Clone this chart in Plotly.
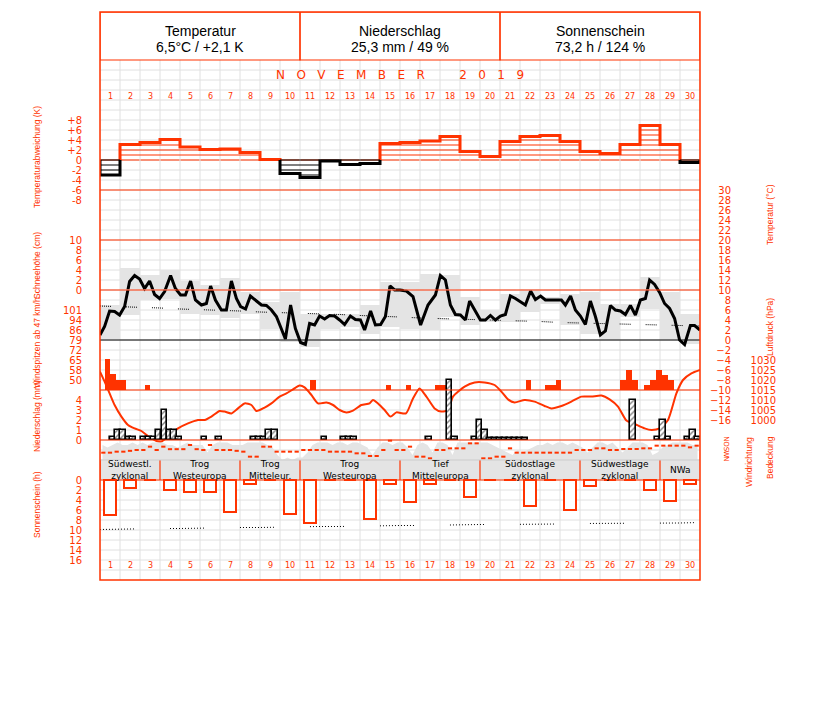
import plotly.graph_objects as go

# ---------------- data ----------------
days = list(range(1, 31))
day_labels = [str(d) for d in days]
day_edges = list(range(0, 31))

header_titles = ["Temperatur", "Niederschlag", "Sonnenschein"]
header_values = ["6,5°C / +2,1 K", "25,3 mm / 49 %", "73,2 h / 124 %"]
header_centers = [5, 15, 25]
month_letters = ["N", "O", "V", "E", "M", "B", "E", "R"]
year_letters = ["2", "0", "1", "9"]

# daily temperature anomaly (K)
anomaly = [-3.0, 3.1, 3.5, 4.1, 2.6, 2.1, 2.2, 1.5, 0.1, -2.7, -3.5, -0.2, -0.9, -0.7, 3.3,
           3.5, 3.8, 4.7, 1.7, 0.7, 3.7, 4.7, 4.9, 3.7, 1.7, 1.3, 3.1, 6.9, 3.1, -0.5]

# daily max / min temperature (°C)
tmax = [7.0, 14.5, 13.1, 14.0, 11.8, 11.1, 12.5, 9.7, 7.7, 9.7, 5.3, 5.3, 5.3, 7.0, 11.7,
        11.7, 13.3, 13.0, 8.7, 6.0, 9.3, 10.3, 8.7, 9.3, 9.7, 7.3, 7.3, 12.7, 9.7, 5.3]
tmin = [0.3, 5.1, 8.0, 8.3, 5.3, 5.1, 4.5, 5.3, 2.3, -0.3, -1.3, 2.3, 2.7, 1.3, 2.7,
        2.3, 2.0, 4.7, 3.0, 3.7, 3.7, 5.7, 7.3, 3.0, 1.3, 0.0, 4.7, 6.3, 0.0, -0.7]

# temperature course (time in days since 1 Nov 00 h, °C)
temp_t = [0.0, 0.23, 0.48, 0.73, 0.98, 1.23, 1.48, 1.73, 1.98, 2.23, 2.48, 2.73, 2.98, 3.23, 3.53,
          3.77, 4.03, 4.27, 4.53, 4.77, 5.07, 5.32, 5.53, 5.77, 6.07, 6.32, 6.57, 6.82, 7.03, 7.28,
          7.52, 7.77, 8.07, 8.32, 8.57, 8.82, 9.03, 9.27, 9.53, 9.77, 10.03, 10.27, 10.48, 10.73,
          10.98, 11.23, 11.48, 11.73, 11.98, 12.23, 12.52, 12.77, 13.02, 13.23, 13.53, 13.77,
          14.03, 14.27, 14.5, 14.73, 15.0, 15.32, 15.65, 16.03, 16.4, 16.77, 17.02, 17.27, 17.52,
          17.77, 18.02, 18.27, 18.48, 18.77, 19.02, 19.27, 19.52, 19.77, 20.02, 20.27, 20.52,
          20.77, 21.03, 21.27, 21.53, 21.77, 22.03, 22.27, 22.82, 23.07, 23.27, 23.53, 23.77,
          24.02, 24.27, 24.52, 24.77, 25.02, 25.27, 25.52, 25.77, 26.02, 26.27, 26.52, 26.77,
          27.02, 27.27, 27.48, 27.73, 27.98, 28.23, 28.48, 28.73, 28.98, 29.23, 29.52, 29.73, 30.0]
temp_v = [1.0, 2.7, 5.8, 5.7, 5.0, 6.7, 11.7, 12.9, 12.2, 10.3, 11.8, 9.1, 8.3, 9.7, 12.9,
          10.3, 9.0, 9.0, 11.8, 8.0, 7.0, 7.3, 10.8, 8.0, 6.0, 6.0, 11.8, 8.3, 6.7, 6.2,
          8.8, 8.0, 7.0, 6.9, 6.0, 4.7, 2.7, 0.2, 7.0, 2.3, -0.5, -0.9, 3.3, 3.0,
          4.8, 4.2, 4.9, 4.8, 4.0, 3.1, 4.8, 4.1, 4.0, 2.0, 5.8, 3.0,
          3.1, 4.7, 10.8, 10.0, 10.0, 9.8, 8.7, 3.0, 7.0, 9.0, 12.9, 12.0, 7.0,
          5.1, 5.0, 4.0, 7.8, 5.7, 4.0, 4.0, 4.9, 4.0, 4.8, 5.1, 8.8,
          8.3, 7.7, 7.0, 9.8, 8.1, 8.8, 8.0, 8.0, 8.0, 7.0, 8.8, 6.0,
          4.8, 3.1, 7.8, 4.7, 1.0, 1.8, 6.9, 6.0, 5.8, 5.1, 6.9, 5.0,
          8.0, 8.3, 12.0, 11.1, 9.5, 7.3, 6.3, 4.3, 0.0, -0.9, 2.9, 2.9, 2.0]

# long-term mean temperature at day edges (°C)
clim_temp = [6.8, 6.7, 6.5, 6.4, 6.2, 6.1, 5.9, 5.8, 5.6, 5.5, 5.3, 5.2, 5.1, 4.9, 4.8, 4.6,
             4.4, 4.3, 4.2, 4.1, 3.9, 3.8, 3.7, 3.5, 3.4, 3.3, 3.2, 3.1, 3.0, 2.9, 2.8]

# snow depth (cm)
snow = [0, 0, 0, 0, 0, 0, 0, 0, 0, 0, 0, 0, 0, 0, 0,
        0, 0, 0, 0, 0, 0, 0, 0, 0, 0, 0, 0, 0, 0, 0]

# wind gusts >= 47 km/h (time, km/h)
wind_t = [0.38, 0.65, 0.9, 1.15, 2.38, 10.65, 14.42, 15.42, 16.9, 17.15, 21.42, 22.4, 22.65,
          22.92, 26.15, 26.45, 26.75, 27.35, 27.65, 27.95, 28.25, 28.55]
wind_v = [65.3, 54.7, 50.4, 50.4, 46.8, 50.4, 46.8, 46.8, 46.8, 46.8, 50.4, 46.8, 46.8,
          50.4, 50.4, 57.6, 50.4, 46.8, 50.4, 57.6, 54.0, 50.4]

# air pressure (time, hPa)
pres_t = [0.0, 0.23, 0.48, 0.73, 1.07, 1.4, 1.73, 2.07, 2.4, 2.82, 3.07, 3.4, 3.9, 4.4, 4.9,
          5.23, 5.57, 5.98, 6.23, 6.57, 6.9, 7.23, 7.57, 7.82, 8.23, 8.57, 8.98, 9.32, 9.65,
          9.98, 10.23, 10.57, 10.9, 11.32, 11.65, 11.98, 12.32, 12.65, 13.07, 13.48, 13.65,
          13.9, 14.23, 14.53, 14.82, 15.3, 15.65, 15.98, 16.32, 16.73, 17.07, 17.4, 17.65,
          18.23, 18.73, 19.23, 19.73, 20.07, 20.4, 20.73, 21.23, 21.73, 22.23, 22.57, 23.07,
          23.57, 24.07, 24.57, 25.07, 25.48, 25.9, 26.32, 26.73, 27.23, 27.57, 27.98, 28.4,
          28.82, 29.15, 29.57, 30.0]
pres_v = [1024.2, 1019.2, 1013.3, 1007.5, 1001.7, 997.5, 995.8, 994.5, 992.0, 989.5, 989.2,
          991.7, 995.8, 998.3, 1000.0, 1000.0, 1001.7, 1004.5, 1004.2, 1003.3, 1005.8, 1008.3,
          1007.5, 1004.5, 1006.2, 1008.3, 1011.7, 1013.3, 1015.3, 1017.2, 1016.3, 1012.5,
          1008.3, 1008.7, 1007.5, 1005.0, 1003.8, 1004.7, 1007.5, 1008.3, 1010.0, 1008.3,
          1005.0, 1001.7, 1003.8, 1003.3, 1010.8, 1015.8, 1011.7, 1005.8, 1004.2, 1005.0,
          1011.7, 1016.7, 1018.8, 1018.8, 1017.5, 1014.2, 1010.3, 1008.8, 1010.0, 1009.2,
          1007.0, 1005.8, 1007.0, 1009.2, 1011.7, 1011.7, 1012.2, 1010.3, 1006.7, 999.7,
          998.0, 995.8, 995.0, 995.8, 1000.0, 1013.3, 1020.0, 1023.3, 1025.0]

# precipitation (time, mm)
prec_t = [0.65, 0.9, 1.15, 1.43, 1.65, 2.2, 2.45, 2.68, 2.93, 3.22, 3.47, 3.7, 3.95, 5.22,
          5.95, 7.7, 7.95, 8.2, 8.45, 8.75, 11.22, 12.2, 12.45, 12.7, 16.45, 17.47, 17.75,
          18.72, 18.98, 19.25, 19.5, 19.75, 20.0, 20.25, 20.5, 20.75, 21.0, 21.25, 26.65,
          27.88, 28.15, 28.43, 29.38, 29.65, 29.9]
prec_v = [0.3, 1.0, 1.0, 0.3, 0.3, 0.3, 0.3, 0.3, 1.0, 3.0, 1.0, 1.0, 0.3, 0.3,
          0.3, 0.3, 0.3, 0.3, 1.0, 1.0, 0.3, 0.3, 0.3, 0.3, 0.3, 6.0, 0.3,
          0.3, 2.0, 1.0, 0.2, 0.2, 0.2, 0.2, 0.2, 0.2, 0.2, 0.2, 4.0,
          0.3, 2.0, 0.3, 0.3, 1.0, 0.3]

# wind direction, 3 values per day (degrees)
wind_dir = [228, 228, 210, 210, 195, 180, 180, 120, 180, 120, 165, 165, 165, 90, 165,
            180, 90, 180, 180, 180, 195, 210, 300, 300, 120, 120, 210, 210, 210, 210,
            180, 180, 180, 180, 210, 210, 210, 210, 240, 240, 288, 288, 180, 12, 180,
            180, 120, 300, 300, 330, 180, 180, 150, 150, 150, 60, 60, 330, 330, 300,
            300, 150, 228, 228, 228, 228, 228, 228, 228, 228, 228, 180, 180, 180, 150,
            150, 180, 180, 162, 162, 162, 150, 150, 102, 102, 102, 102, 102, 132, 102]

# cloud cover, 4 values per day (octas)
cloud = [6, 5, 6, 7, 6, 6, 7, 6, 7, 6, 7, 7, 7, 6, 6, 5, 6, 7, 6, 6, 6, 3, 6, 7,
         7, 7, 6, 6, 6, 7, 7, 7, 7, 6, 5, 2, 0, 1, 0, 1, 1, 3, 6, 7, 7, 7, 6, 7,
         7, 6, 7, 7, 6, 5, 2, 5, 7, 7, 6, 7, 7, 5, 2, 6, 7, 6, 3, 7, 7, 6, 2, 7,
         7, 7, 7, 7, 7, 7, 6, 5, 4, 3, 2, 4, 3, 4, 5, 6, 6, 7, 6, 7, 7, 6, 7, 6,
         5, 3, 5, 7, 7, 6, 7, 5, 3, 5, 7, 7, 7, 6, 2, 3, 5, 6, 7, 7, 7, 7, 6, 6]

# weather types
gwl_start = [0, 3, 7, 10, 15, 19, 24, 28]
gwl_end = [3, 7, 10, 15, 19, 24, 28, 30]
gwl_label = ["Südwestl.<br>zyklonal", "Trog<br>Westeuropa", "Trog<br>Mitteleur.",
             "Trog<br>Westeuropa", "Tief<br>Mitteleuropa", "Südostlage<br>zyklonal",
             "Südwestlage<br>zyklonal", "NWa"]

# sunshine (h)
sun = [7.0, 1.6, 0.0, 2.0, 2.4, 2.4, 6.4, 0.8, 0.0, 6.8, 8.6, 0.0, 0.0, 7.8, 0.8,
       4.4, 0.8, 0.0, 3.4, 0.0, 0.0, 5.2, 0.0, 6.0, 1.2, 0.0, 0.0, 2.0, 4.2, 0.8]
sun_possible = [9.9, 9.8, 9.8, 9.7, 9.7, 9.6, 9.6, 9.5, 9.5, 9.4, 9.4, 9.3, 9.3, 9.2, 9.2, 9.1,
                9.1, 9.0, 9.0, 8.9, 8.9, 8.9, 8.8, 8.8, 8.7, 8.7, 8.7, 8.6, 8.6, 8.6, 8.5]

# tick labels
anom_ticks = [8, 6, 4, 2, 0, -2, -4, -6, -8]
anom_text = ["+8", "+6", "+4", "+2", "0", "-2", "-4", "-6", "-8"]
temp_ticks = [30, 28, 26, 24, 22, 20, 18, 16, 14, 12, 10, 8, 6, 4, 2, 0,
              -2, -4, -6, -8, -10, -12, -14, -16]
snow_ticks = [10, 8, 6, 4, 2, 0]
wind_ticks = [100.8, 93.6, 86.4, 79.2, 72.0, 64.8, 57.6, 50.4]
wind_text = ["101", "94", "86", "79", "72", "65", "58", "50"]
prec_ticks = [4, 3, 2, 1, 0]
pres_ticks = [1030, 1025, 1020, 1015, 1010, 1005, 1000]
dir_ticks = [0, 90, 180, 270, 360]
dir_text = ["N", "O", "S", "W", "N"]
sun_ticks = [0, 2, 4, 6, 8, 10, 12, 14, 16]

# ---------------- layout helpers ----------------
OFF = 8                      # page margin of the browser body
W, H = 827 - 2 * OFF, 702 - 2 * OFF
TOP, BOT = 12, 580           # plot rows in page pixels
RED = '#ff3300'
GRID = '#e0e0e0'
GREY = '#e4e4e4'
TICKFONT = dict(family='DejaVu Sans, sans-serif', size=10, color=RED)
TITLEFONT = dict(family='Liberation Sans, Arial, sans-serif', size=8.5, color=RED)


def py(p):
    return (H - (p - OFF)) / H


def px(p):
    return (p - OFF) / W


def yrange(v0, p0, ppu):
    return [v0 - (BOT - p0) / ppu, v0 + (p0 - TOP) / ppu]


def ya(p):
    # value on the main (anomaly) axis at page row p
    return (160 - p) / 5


fig = go.Figure()
nolegend = dict(showlegend=False, hoverinfo='skip')

# ---- temperature anomaly (y) ----
def runs(sign):
    out, cur = [], []
    for i, v in enumerate(anomaly):
        if v * sign > 0:
            cur.append(i)
        elif cur:
            out.append(cur)
            cur = []
    if cur:
        out.append(cur)
    return out


for sign, col in ((1, RED), (-1, 'black')):
    hx, hy = [], []
    for lev in range(0 if sign < 0 else 1, 9):
        for i, v in enumerate(anomaly):
            if v * sign > lev:
                hx += [i, i + 1, None]
                hy += [sign * lev, sign * lev, None]
    fig.add_trace(go.Scatter(x=hx, y=hy, mode='lines', line=dict(color=col, width=1),
                             yaxis='y', **nolegend))
    ox, oy = [], []
    for r in runs(sign):
        ox.append(r[0])
        oy.append(0)
        for i in r:
            ox += [i, i + 1]
            oy += [anomaly[i], anomaly[i]]
        ox += [r[-1] + 1, None]
        oy += [0, None]
    fig.add_trace(go.Scatter(x=ox, y=oy, mode='lines', line=dict(color=col, width=3),
                             yaxis='y', **nolegend))

# ---- temperature (y2) ----
fig.add_trace(go.Bar(x=[d - 0.5 for d in days], y=[a - b for a, b in zip(tmax, tmin)], base=tmin,
                     width=1, marker=dict(color=GREY, line=dict(width=0)), yaxis='y2', **nolegend))
fig.add_trace(go.Scatter(x=day_edges, y=clim_temp, mode='lines', yaxis='y2',
                         line=dict(color='black', width=1,
                                   dash='1px,1px,1px,1px,1px,1px,1px,1px,1px,1px,1px,15px'),
                         **nolegend))
fig.add_trace(go.Scatter(x=temp_t, y=temp_v, mode='lines', yaxis='y2',
                         line=dict(color='black', width=3), **nolegend))

# ---- snow (y3) ----
fig.add_trace(go.Bar(x=[d - 0.5 for d in days], y=snow, width=0.6, yaxis='y3',
                     marker=dict(color='#bbbbbb'), **nolegend))

# ---- wind gusts (y4) ----
fig.add_trace(go.Bar(x=wind_t, y=[v - 43.2 for v in wind_v], base=43.2, width=0.27, yaxis='y4',
                     marker=dict(color=RED, line=dict(width=0)), **nolegend))

# ---- pressure (y5) ----
fig.add_trace(go.Scatter(x=pres_t, y=pres_v, mode='lines', yaxis='y5',
                         line=dict(color=RED, width=2, shape='spline', smoothing=0.6), **nolegend))

# ---- precipitation (y6) ----
fig.add_trace(go.Bar(x=prec_t, y=prec_v, width=0.26, yaxis='y6',
                     marker=dict(color='white', line=dict(color='black', width=1.6),
                                 pattern=dict(shape='/', fgcolor='black', bgcolor='white',
                                              size=4, solidity=0.35)),
                     **nolegend))

# ---- cloud cover (y7) ----
fig.add_trace(go.Scatter(x=[i / 4 + 0.125 for i in range(len(cloud))], y=cloud, mode='lines',
                         fill='tozeroy', fillcolor=GREY, line=dict(width=0, color=GREY),
                         yaxis='y7', **nolegend))

# ---- wind direction (y8) ----
fig.add_trace(go.Scatter(x=[i / 3 + 1 / 6 for i in range(len(wind_dir))], y=wind_dir,
                         mode='markers', yaxis='y8',
                         marker=dict(symbol='line-ew', size=3, line=dict(width=2, color=RED)),
                         **nolegend))

# ---- sunshine (y9) ----
fig.add_trace(go.Bar(x=[d - 0.5 for d in days], y=sun, width=0.62, yaxis='y9',
                     marker=dict(color='white', line=dict(color=RED, width=2)), **nolegend))
fig.add_trace(go.Scatter(x=day_edges, y=sun_possible, mode='lines', yaxis='y9',
                         line=dict(color='black', width=1,
                                   dash='1px,2px,1px,2px,1px,2px,1px,2px,1px,2px,1px,2px,'
                                        '1px,2px,1px,2px,1px,2px,1px,2px,1px,2px,1px,36px'),
                         **nolegend))

# ---------------- axes ----------------
left = dict(anchor='free', side='left', position=px(82), showgrid=False, zeroline=False,
            showline=False, ticks='', tickfont=TICKFONT, tickmode='array', fixedrange=True,
            automargin=False)

fig.update_layout(
    width=W, height=H, margin=dict(l=0, r=0, t=0, b=0, autoexpand=False),
    paper_bgcolor='white', plot_bgcolor='white', barmode='overlay', bargap=0,
    xaxis=dict(domain=[px(100), px(700)], range=[0, 30], anchor='y', showgrid=False,
               showticklabels=False, zeroline=False, showline=False, ticks='',
               fixedrange=True, automargin=False),
    yaxis=dict(left, domain=[py(BOT), py(TOP)], range=yrange(0, 160, 5),
               tickvals=anom_ticks, ticktext=anom_text),
    yaxis2=dict(left, overlaying='y', position=px(731), range=yrange(0, 340, 5),
                tickvals=temp_ticks),
    yaxis3=dict(left, overlaying='y', range=yrange(0, 290, 5), tickvals=snow_ticks),
    yaxis4=dict(left, overlaying='y', range=yrange(43.2, 390, 10 / 7.2),
                tickvals=wind_ticks, ticktext=wind_text),
    yaxis5=dict(left, overlaying='y', position=px(776), range=yrange(1000, 420, 2),
                tickvals=pres_ticks),
    yaxis6=dict(left, overlaying='y', range=yrange(0, 440, 10), tickvals=prec_ticks),
    yaxis7=dict(left, overlaying='y', range=yrange(0, 460, 2.5), showticklabels=False),
    yaxis8=dict(left, overlaying='y', position=px(731), range=yrange(0, 440, -20 / 360),
                tickvals=dir_ticks, ticktext=dir_text, tickangle=90,
                tickfont=dict(family='DejaVu Sans, sans-serif', size=7, color=RED)),
    yaxis9=dict(left, overlaying='y', range=yrange(0, 480, -5), tickvals=sun_ticks),
)

# ---------------- shapes ----------------
shapes = []
# light grid (below everything)
for e in day_edges:
    shapes.append(dict(type='line', xref='x', yref='y', x0=e, x1=e, y0=ya(580), y1=ya(60),
                       line=dict(color=GRID, width=1), layer='below'))
for row in range(70, 580, 10):
    shapes.append(dict(type='line', xref='x domain', yref='y', x0=0, x1=1, y0=ya(row),
                       y1=ya(row), line=dict(color=GRID, width=1), layer='below'))
# weather type boxes
for s, e in zip(gwl_start, gwl_end):
    shapes.append(dict(type='rect', xref='x', yref='y', x0=s, x1=e, y0=ya(480), y1=ya(460),
                       fillcolor=GREY, line=dict(width=0), layer='below'))
    shapes.append(dict(type='line', xref='x', yref='y', x0=s, x1=s, y0=ya(480), y1=ya(460),
                       line=dict(color=RED, width=1.2), layer='above'))
# header boxes
for c in header_centers:
    shapes.append(dict(type='rect', xref='x', yref='y', x0=c - 5, x1=c + 5,
                       y0=ya(60), y1=ya(TOP), line=dict(color=RED, width=1.2), layer='above'))
# horizontal separators
for yr, val, col, lay in (('y', 0, RED, 'below'), ('y2', 30, RED, 'above'),
                          ('y2', 20, RED, 'above'), ('y2', 10, RED, 'above'),
                          ('y2', 0, 'black', 'above'), ('y4', 43.2, RED, 'above'),
                          ('y6', 0, RED, 'above'), ('y9', 0, RED, 'above'),
                          ('y9', -4, '#cccccc', 'above')):
    shapes.append(dict(type='line', xref='x domain', yref=yr, x0=0, x1=1, y0=val, y1=val,
                       line=dict(color=col, width=1.2), layer=lay))
# frame
shapes.append(dict(type='rect', xref='x domain', yref='y domain', x0=0, x1=1, y0=0, y1=1,
                   line=dict(color=RED, width=1.5), layer='above'))
fig.update_layout(shapes=shapes)

# ---------------- annotations ----------------
NB = '\u00a0'
month_title = (NB * 3).join(month_letters) + NB * 9 + (NB * 3).join(year_letters)
ann = []


def text(x, y, t, font, xref='x', angle=0):
    ann.append(dict(x=x, xref=xref, y=py(y), yref='paper', text=t, showarrow=False,
                    xanchor='center', yanchor='middle', textangle=angle, font=font))


HFONT = dict(family='Liberation Sans, Arial, sans-serif', size=14, color='black')
for c, t, v in zip(header_centers, header_titles, header_values):
    text(c, 31, t, HFONT)
    text(c, 47, v, HFONT)
text(15, 75, month_title, dict(family='DejaVu Sans, sans-serif', size=12, color=RED))
for d, lab in zip(days, day_labels):
    for yy in (96, 565):
        text(d - 0.5, yy, lab, dict(family='DejaVu Sans, sans-serif', size=8, color=RED))
for s, e, lab in zip(gwl_start, gwl_end, gwl_label):
    text((s + e) / 2, 470, lab, dict(family='DejaVu Sans, sans-serif', size=9, color='black'))

titles = [("Temperaturabweichung (K)", 37, 157),
          ("Schneehöhe (cm)", 37, 266),
          ("Windspitzen ab 47 km/h", 37, 343),
          ("Niederschlag (mm)", 37, 416),
          ("Sonnenschein (h)", 37, 505),
          ("Temperatur (°C)", 770, 215),
          ("Luftdruck (hPa)", 770, 327),
          ("Windrichtung", 749, 462),
          ("Bedeckung", 770, 458)]
for t, xx, yy in titles:
    text(px(xx), yy, t, TITLEFONT, xref='paper', angle=-90)
fig.update_layout(annotations=ann)

fig.write_html("out.html")
